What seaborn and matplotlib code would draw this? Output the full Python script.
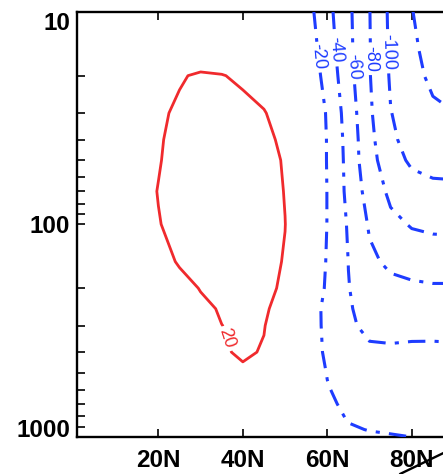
import numpy as np
import pandas as pd
import seaborn as sns
import matplotlib
matplotlib.use("Agg")
import matplotlib.pyplot as plt
from matplotlib.lines import Line2D
from matplotlib.ticker import FixedLocator, NullFormatter

# ---------------- data ----------------
lat = [0, 10, 15, 20, 25, 30, 35, 40, 45, 50, 55, 60, 65, 70, 75, 80, 85, 90]
pressure = [10, 15, 20, 30, 40, 50, 70, 100, 150, 200, 250, 300, 400, 500,
            600, 700, 850, 925, 1000]

row_10 = [5, 8, 10, 12, 12, 12, 10, 8, 5, 2, -12, -34, -56, -79.5, -104, -119, -135, -145]
row_15 = [6, 9, 10, 11, 12, 12, 12, 11, 8, 2, -8, -30, -55, -79, -103, -116, -128, -138]
row_20 = [6, 10, 13, 16, 19, 21.5, 20.5, 18, 13, 6, -5, -27, -53, -79, -102, -114, -124, -130]
row_30 = [5, 12, 15, 18, 22, 24, 25, 24, 21, 12, 2, -22, -49, -77, -99.5, -108, -116, -119.5]
row_40 = [4, 12, 15, 19, 23, 25, 26, 25, 23.5, 17, 4, -21, -47, -75, -95, -110, -112, -115]
row_50 = [3, 11, 15, 19.3, 24, 26, 27, 26.5, 25, 18.7, 5, -21, -46, -74, -90, -104, -107, -110]
row_70 = [2, 10, 15, 20.4, 25, 27, 28, 28, 26, 19.5, 5, -20.5, -45, -68, -84, -88, -94, -93]
row_100 = [2, 10, 15, 19.4, 24, 27, 28, 28, 27, 20.2, 5, -20.5, -42, -62, -75, -81.5, -83.5, -84]
row_150 = [2, 8, 12, 16, 21, 25, 27, 27, 25, 19, 5, -22, -40.2, -56, -64, -66, -68, -68]
row_200 = [2, 6, 9, 12, 16, 20.5, 24, 25, 23, 18, 4, -24, -39.5, -48, -54, -57, -58, -58]
row_250 = [2, 5, 7, 10, 13, 17.5, 21, 23, 22, 14, -4, -27, -38.7, -45, -48, -49, -49, -49]
row_300 = [2, 4, 5, 7, 10, 14, 19.9, 22, 20.5, 12, -3, -27, -36.5, -45, -49, -49, -48, -49]
row_400 = [1, 3, 4, 5, 8, 12, 18.3, 22, 19, 8, -3, -25, -30, -36, -35, -33, -33.5, -34]
row_500 = [1, 2, 3, 4, 6, 9, 15, 17.5, 14, 6, -2, -21, -28, -30, -30, -30, -30, -30]
row_600 = [1, 2, 2, 3, 5, 7, 10, 12, 10, 4, -2, -18.5, -28, -29, -29, -29, -29, -29]
row_700 = [1, 1, 2, 3, 4, 5, 7, 8, 7, 3, -3, -16.5, -24, -27, -28, -28, -28, -28]
row_850 = [0, 1, 1, 2, 3, 3, 4, 5, 4, 2, -3, -12, -20.5, -25, -27, -27, -27, -27]
row_925 = [0, 0, 1, 1, 2, 2, 3, 3, 3, 1, -3, -10, -17, -21, -23, -24, -24, -24]
row_1000 = [0, 0, 0, 1, 1, 1, 2, 2, 2, 0, -3, -8, -13, -16, -18, -20.2, -21, -21]

pos_levels = [20]
neg_levels = [-120, -100, -80, -60, -40, -20]

x_ticks = [20, 40, 60, 80]
x_tick_labels = ["20N", "40N", "60N", "80N"]
y_ticks = [10, 100, 1000]
y_tick_labels = ["10", "100", "1000"]
y_minor = [20, 30, 40, 50, 60, 70, 80, 90, 200, 300, 400, 500, 600, 700, 800, 900]

# label anchor points (lat, p)
neg_label_pos = [(57.1, 16.3), (61.8, 15.1), (66.2, 18.2), (70.3, 16.7), (73.9, 15.5)]
pos_label_pos = [(35.1, 351)]

rows = [row_10, row_15, row_20, row_30, row_40, row_50, row_70, row_100, row_150,
        row_200, row_250, row_300, row_400, row_500, row_600, row_700, row_850,
        row_925, row_1000]
df = pd.DataFrame(rows, index=pressure, columns=lat)

# ---------------- style ----------------
sns.set_theme(style="ticks")
plt.rcParams["font.family"] = ["Liberation Sans", "DejaVu Sans"]
RED = "#F02A2D"
BLUE = "#1E3CFF"

W, H = 443, 474
fig = plt.figure(figsize=(W / 100, H / 100), dpi=100)
left_px, right_px, top_px, bot_px = 77.3, 443.0, 11.7, 436.7
ax = fig.add_axes([left_px / W, 1 - bot_px / H, (right_px - left_px) / W,
                   (bot_px - top_px) / H])

X, Y = np.meshgrid(df.columns.values.astype(float), df.index.values.astype(float))
Z = df.values.astype(float)

cs_pos = ax.contour(X, Y, Z, levels=pos_levels, colors=[RED], linewidths=2.0,
                    linestyles="solid", zorder=3)
lw_b = 2.2
cs_neg = ax.contour(X, Y, Z, levels=neg_levels, colors=[BLUE], linewidths=lw_b,
                    zorder=3)
cs_neg.set_linestyle((0, (5.7, 3.0, 1.35, 3.0)))

ax.set_yscale("log")
ax.set_xlim(0.8, 87.4)
ax.set_ylim(1000, 10)

tl_b = ax.clabel(cs_neg, fmt="%d", manual=neg_label_pos, inline=True, fontsize=13,
                 inline_spacing=3)
tl_r = ax.clabel(cs_pos, fmt="%d", manual=pos_label_pos, inline=True, fontsize=13,
                 inline_spacing=3)

for sp in ["left", "top", "bottom"]:
    ax.spines[sp].set_linewidth(1.7)
    ax.spines[sp].set_color("black")
ax.spines["right"].set_visible(False)

ax.set_xticks(x_ticks, labels=x_tick_labels, fontweight="bold", fontsize=17.5)
ax.set_yticks(y_ticks, labels=y_tick_labels, fontweight="bold", fontsize=17.5)
ax.yaxis.set_minor_locator(FixedLocator(y_minor))
ax.yaxis.set_minor_formatter(NullFormatter())
ax.xaxis.set_minor_locator(FixedLocator([]))
ax.tick_params(axis="both", which="both", direction="in", length=5.8, width=1.2,
               color="black", top=True, right=False, labelcolor="black")
ax.tick_params(axis="x", pad=9.0)
ax.tick_params(axis="y", pad=5.0)

ylabs = ax.get_yticklabels()
ylabs[0].set_va("top")
ylabs[2].set_va("baseline")

# coloured tick marks seen in the reference
ax.xaxis.get_major_ticks()[0].tick2line.set_color(RED)
mt = ax.yaxis.get_minor_ticks()[0]
mt.tick1line.set_color(RED)

ax.set_xlabel("")
ax.set_ylabel("")
ax.grid(False)

# stray black stroke at the lower-right corner
fig.add_artist(Line2D([400 / W, 443.5 / W], [1 - 474 / H, 1 - 453 / H],
                      color="black", lw=1.7, transform=fig.transFigure))

fig.savefig("out.png", dpi=100)
